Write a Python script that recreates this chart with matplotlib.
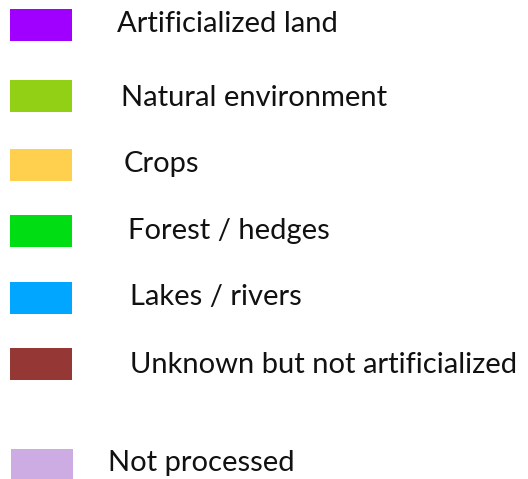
import matplotlib
matplotlib.use("Agg")
import matplotlib.pyplot as plt
from matplotlib.patches import Rectangle

labels = ["Artificialized land", "Natural environment", "Crops", "Forest / hedges",
          "Lakes / rivers", "Unknown but not artificialized", "Not processed"]
colors = ["#A000FF", "#92D016", "#FFD04E", "#00DD12", "#00A6FF", "#953735", "#CDACE4"]

# layout (pixels)
box_x = [10, 10, 10, 10, 10, 10, 11]
box_top = [9, 80, 149, 215, 282, 348, 449]
box_w, box_h = 62, 32
text_x = [117, 121, 124, 128, 130, 130, 108]
text_base = [32, 106, 172, 239, 305, 373, 471]

fig = plt.figure(figsize=(5.28, 4.79), dpi=100)
ax = fig.add_axes([0, 0, 1, 1])
ax.set_xlim(0, 528)
ax.set_ylim(479, 0)
ax.axis("off")

for lab, col, bx, bt, tx, tb in zip(labels, colors, box_x, box_top, text_x, text_base):
    ax.add_patch(Rectangle((bx, bt), box_w, box_h, facecolor=col, edgecolor="none"))
    ax.text(tx, tb, lab, fontsize=21, family=["Lato", "DejaVu Sans"], color="#111111",
            va="baseline", ha="left")

fig.savefig("out.png", dpi=100)
